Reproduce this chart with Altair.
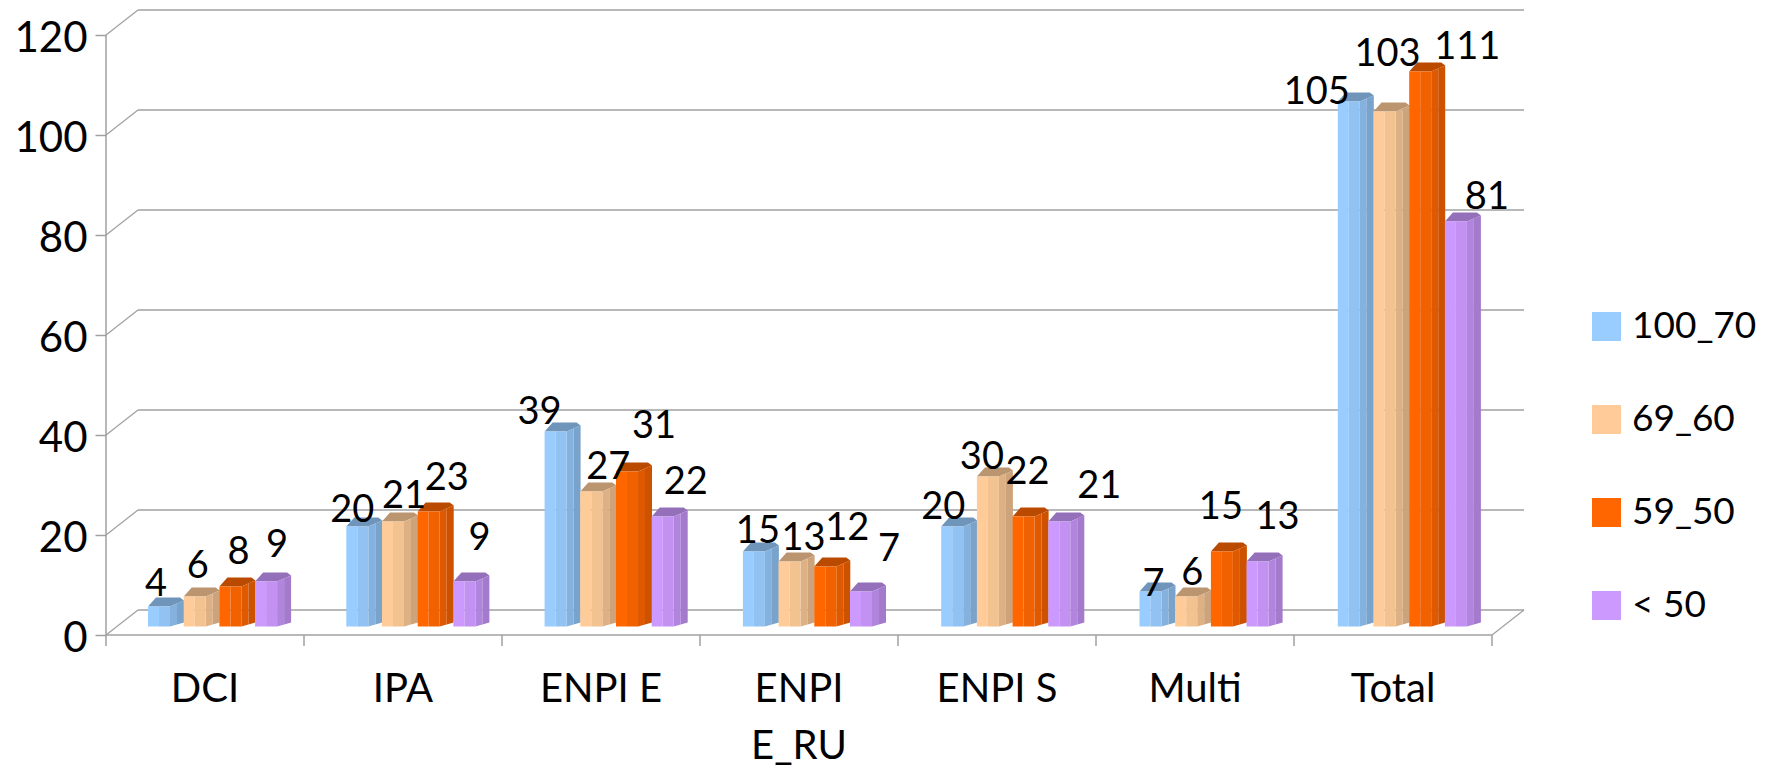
import altair as alt
import pandas as pd

categories = ["DCI", "IPA", "ENPI E", "ENPI\nE_RU", "ENPI S", "Multi", "Total"]
series = ["100_70", "69_60", "59_50", "< 50"]
v_100_70 = [4, 20, 39, 15, 20, 7, 105]
v_69_60 = [6, 21, 27, 13, 30, 6, 103]
v_59_50 = [8, 23, 31, 12, 22, 15, 111]
v_lt_50 = [9, 9, 22, 7, 21, 13, 81]
values = [v_100_70, v_69_60, v_59_50, v_lt_50]
y_ticks = [0, 20, 40, 60, 80, 100, 120]

# label nudges off each bar (the source placed its labels to dodge one another)
label_dx = [[-3, 3, 8, 11], [-5, 11, 18, 15], [-16, 17, 27, 23], [4, 14, 22, 28],
            [-9, -6, 4, 40], [3, 6, -1, 20], [-32, 3, 47, 31]]
label_up = [[22, 30, 34, 36], [16, 25, 33, 43], [19, 24, 45, 34], [20, 23, 38, 42],
            [19, 19, 44, 35], [7, 23, 44, 44], [9, 57, 24, 24]]

base_colors = {"100_70": (0x99, 0xCC, 0xFF), "69_60": (0xFF, 0xCC, 0x99),
               "59_50": (0xFF, 0x66, 0x00), "< 50": (0xCC, 0x99, 0xFF)}
shade_factors = {"": 1.0, " s2": 0.95, " s3": 0.87, " s4": 0.80, " top": 0.73}

PX_PER_CAT = 198.0
PX_PER_UNIT = 5.0
W, H = 1660, 625
FONT = "Lato"
GRID = "#A0A0A0"


def ux(px):
    return px / PX_PER_CAT


def uy(px):
    return px / PX_PER_UNIT


DEPTH_X, DEPTH_Y = ux(32), uy(25)
BAR_W, BAR_DX = ux(22), ux(14)
TOP_RISE, EDGE_RISE, BOT_RISE = uy(9), uy(6), uy(4)
BASE = uy(8.5)
GROUP_LEFT, GROUP_STEP, BAR_STEP = ux(42), ux(198.3), ux(35.7)

domain, rng = [], []
for s in series:
    for suf, f in shade_factors.items():
        domain.append(s + suf)
        rng.append("#%02X%02X%02X" % tuple(round(c * f) for c in base_colors[s]))

faces, labels = [], []
fid = 0


def add_face(shade, pts):
    global fid
    fid += 1
    for x, y, y2 in pts:
        faces.append({"id": fid, "shade": shade, "x": x, "y": y, "y2": y2})


for g in range(len(categories)):
    for i, s in enumerate(series):
        v = values[i][g]
        left = GROUP_LEFT + GROUP_STEP * g + BAR_STEP * i
        bot, top = BASE, BASE + v
        mid = left + BAR_W / 2
        right = left + BAR_W
        q = 0.5
        add_face(s + " top", [(left, top, top),
                              (left + ux(8), top + TOP_RISE, top),
                              (right, top + TOP_RISE, top),
                              (right + ux(10), top + TOP_RISE, top + EDGE_RISE * 10 / 14),
                              (right + BAR_DX, top + EDGE_RISE, top + EDGE_RISE)])
        add_face(s + " s3", [(right, top, bot),
                             (right + BAR_DX * q, top + EDGE_RISE * q, bot + BOT_RISE * q)])
        add_face(s + " s4", [(right + BAR_DX * q, top + EDGE_RISE * q, bot + BOT_RISE * q),
                             (right + BAR_DX, top + EDGE_RISE, bot + BOT_RISE)])
        add_face(s, [(left, top, bot), (mid, top, bot)])
        add_face(s + " s2", [(mid, top, bot), (right, top, bot)])
        labels.append({"x": mid + ux(label_dx[g][i]), "y": top + uy(label_up[g][i]), "t": str(v)})

cat_rows = []
for g, c in enumerate(categories):
    for j, line in enumerate(c.split("\n")):
        cat_rows.append({"x": g + 0.5, "y": uy(-55 - 57 * j), "t": line})

X = alt.Scale(domain=[0, W / PX_PER_CAT], nice=False, zero=False)
Y = alt.Scale(domain=[0, H / PX_PER_UNIT], nice=False, zero=False)
xe = alt.X("x:Q", scale=X, axis=None)
ye_plain = alt.Y("y:Q", scale=Y, title=None,
                 axis=alt.Axis(values=y_ticks, grid=False, domain=False, tickSize=11, tickColor=GRID,
                               tickWidth=1.5, labelFontSize=42, labelFont=FONT, labelColor="black",
                               labelPadding=8, labelOffset=3))
n = len(categories)

wall = pd.DataFrame([{"x": DEPTH_X, "x2": n + DEPTH_X, "y": t + DEPTH_Y} for t in y_ticks])
back = alt.Chart(wall).mark_rule(color=GRID, strokeWidth=1.5).encode(xe, x2="x2:Q", y=ye_plain)

diag_rows = []
for t in y_ticks:
    diag_rows += [{"k": t, "x": 0, "y": t}, {"k": t, "x": DEPTH_X, "y": t + DEPTH_Y}]
diag_rows += [{"k": "r", "x": n, "y": 0}, {"k": "r", "x": n + DEPTH_X, "y": DEPTH_Y}]
diag = alt.Chart(pd.DataFrame(diag_rows)).mark_line(color=GRID, strokeWidth=1.2).encode(xe, ye_plain, detail="k:N")

floor = alt.Chart(pd.DataFrame([{"x": 0, "x2": n, "y": 0}])).mark_rule(color=GRID, strokeWidth=1.5).encode(xe, x2="x2:Q", y=ye_plain)
ticks = pd.DataFrame([{"x": c, "y": uy(-11), "y2": 0} for c in range(n + 1)])
cat_ticks = alt.Chart(ticks).mark_rule(color=GRID, strokeWidth=1.5).encode(xe, ye_plain, y2="y2:Q")
spine = alt.Chart(pd.DataFrame([{"x": 0, "y": 0, "y2": 120}])).mark_rule(color=GRID, strokeWidth=1.5).encode(xe, ye_plain, y2="y2:Q")

bars = alt.Chart(pd.DataFrame(faces)).mark_area(interpolate="linear", opacity=1).encode(
    xe, ye_plain, y2="y2:Q", detail="id:N",
    color=alt.Color("shade:N", scale=alt.Scale(domain=domain, range=rng),
                    legend=alt.Legend(values=series, title=None, orient="none", legendX=1482, legendY=298,
                                      symbolType="square", symbolSize=841, symbolStrokeWidth=0, symbolOpacity=1,
                                      labelFont=FONT, labelFontSize=37, labelColor="black", labelLimit=300,
                                      labelOffset=7, rowPadding=55, padding=0)))

txt = alt.Chart(pd.DataFrame(labels)).mark_text(font=FONT, fontSize=38, color="black", baseline="middle").encode(xe, ye_plain, text="t:N")
cats = alt.Chart(pd.DataFrame(cat_rows)).mark_text(font=FONT, fontSize=40, color="black", baseline="middle").encode(xe, ye_plain, text="t:N")

chart = alt.layer(back, diag, floor, cat_ticks, spine, bars, txt, cats).properties(
    width=W, height=H,
    padding={"left": 98, "top": 2, "right": 0, "bottom": 136},
    autosize=alt.AutoSizeParams(type="none"),
).configure_view(stroke=None).configure_axis(labelFontWeight="normal")

chart.save("out.html", embed_options={"renderer": "svg", "actions": False})
